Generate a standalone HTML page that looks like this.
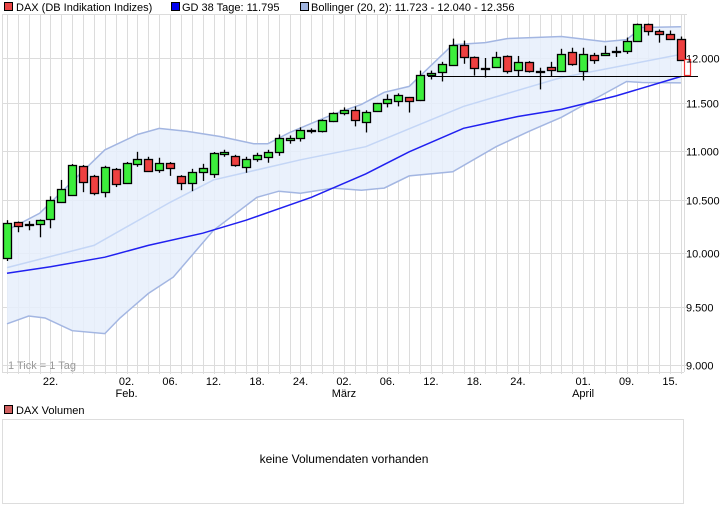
<!DOCTYPE html>
<html><head><meta charset="utf-8"><style>
html,body{margin:0;padding:0;background:#fff;width:726px;height:508px;overflow:hidden}
svg{display:block;font-family:"Liberation Sans",sans-serif}
</style></head><body>
<svg id="chart" width="726" height="508" viewBox="0 0 726 508" xmlns="http://www.w3.org/2000/svg">
<g font-size="11" fill="#000">
 <rect x="4.5" y="2.5" width="8" height="8" fill="#e84444" stroke="#000"/>
 <text x="16" y="11">DAX (DB Indikation Indizes)</text>
 <rect x="171.5" y="2.5" width="8" height="8" fill="#0000ee" stroke="#000"/>
 <text x="182" y="11">GD 38 Tage: 11.795</text>
 <rect x="300.5" y="2.5" width="8" height="8" fill="#9fb4e0" stroke="#000"/>
 <text x="311" y="11">Bollinger (20, 2): 11.723 - 12.040 - 12.356</text>
</g>
<g id="grid"></g>
<g id="band"></g>
<g id="lines"></g>
<g id="candles"></g>
<g id="axes" font-size="11"></g>
<text x="8" y="369" font-size="11" fill="#999">1 Tick = 1 Tag</text>
<g>
 <rect x="4.5" y="405.5" width="8" height="8" fill="#d06060" stroke="#000"/>
 <text x="16" y="414" font-size="11">DAX Volumen</text>
 <rect x="2.5" y="419.5" width="681" height="84" fill="#fff" stroke="#ddd"/>
 <text x="344" y="463" font-size="12" text-anchor="middle">keine Volumendaten vorhanden</text>
</g>
</svg>
<script>
const opens  =[9947,10288,10264,10269,10317,10481,10551,10847,10745,10582,10816,10674,10867,10918,10806,10878,10745,10674,10786,10765,10969,10949,10837,10918,10939,10990,11117,11128,11213,11202,11308,11394,11426,11298,11415,11500,11522,11565,11533,11815,11848,11924,12151,12012,11880,11902,12023,11870,11957,11859,11902,11859,12070,11859,12035,12035,12070,12081,12197,12383,12302,12278,12220];
const closes =[10279,10250,10274,10308,10500,10612,10857,10684,10572,10837,10663,10878,10918,10796,10878,10827,10674,10786,10827,10980,10990,10857,10918,10959,10990,11128,11128,11213,11202,11319,11394,11426,11319,11404,11500,11543,11587,11522,11815,11837,11935,12151,12012,11891,11891,12012,11859,11957,11859,11855,11870,12046,11935,12046,11978,12058,12081,12197,12383,12302,12278,12220,11978];
const highs  =[10308,10295,10298,10315,10541,10704,10865,10855,10755,10847,10825,10886,10990,10939,10929,10885,10752,10816,10867,10988,11011,10959,10939,10980,11011,11170,11160,11245,11234,11330,11404,11457,11468,11426,11505,11598,11609,11570,11859,11859,11957,12220,12197,12018,12000,12070,12030,12023,11965,11891,11957,12104,12116,12116,12058,12139,12128,12232,12394,12394,12325,12313,12244];
const lows   =[9921,10192,10211,10144,10230,10475,10545,10582,10551,10531,10633,10667,10837,10790,10776,10745,10602,10592,10694,10725,10939,10837,10776,10888,10878,10949,11074,11096,11181,11191,11300,11372,11255,11191,11410,11457,11468,11402,11525,11761,11739,11918,11935,11804,11783,11895,11826,11793,11837,11652,11793,11852,11913,11750,11935,12030,12012,12046,12190,12255,12174,12209,11967];
const gdIdx=[0,4,9,13,18,22,28,33,37,42,47,51,56,62];
const gdVals=[9807,9868,9956,10067,10183,10308,10531,10765,10990,11235,11360,11436,11580,11794];
const midIdx=[0,8,15,19,27,33,42,51,62];
const midVals=[9860,10067,10481,10704,10908,11043,11468,11783,12040];
const upIdx=[0,3,9,12,14,16.6,19.6,22.7,24,26,30,32.6,34.7,37,41,44,46,51,55,57,58.4,62];
const upVals=[10211,10375,11010,11170,11234,11202,11149,11074,11074,11191,11383,11489,11620,11685,12151,12174,12220,12244,12186,12209,12348,12356];
const loIdx=[0,2,3.5,6,9,10.4,13,15.3,19,23,25,27,30,32.6,34.7,37,41,45,48,51,54,57,58.4,62];
const loVals=[9354,9423,9405,9294,9268,9405,9623,9772,10211,10531,10592,10572,10623,10602,10623,10745,10786,11043,11202,11351,11543,11739,11728,11723];
const yTicks=[12500,12000,11500,11000,10500,10000,9500,9000];
const yTickLabels=["","12.000","11.500","11.000","10.500","10.000","9.500","9.000"];
const xTickIdx=[4,11,15,19,23,27,31,35,39,43,47,53,57,61];
const xTickLabels=["22.","02.","06.","12.","18.","24.","02.","06.","12.","18.","24.","01.","09.","15."];
const monthIdx=[11,31,53];
const monthLabels=["Feb.","März","April"];
const gdLevel=11795;
const currentHigh=11989, currentLow=11815;

const NS="http://www.w3.org/2000/svg";
const X0=7, DX=10.87, PL=2, PR=684, PT=15, PB=372;
function xs(i){return X0+i*DX;}
function ys(v){return 58-1067*Math.log(v/12000);}
function mk(tag,attrs,parent){const e=document.createElementNS(NS,tag);for(const k in attrs)e.setAttribute(k,attrs[k]);parent.appendChild(e);return e;}
const grid=document.getElementById('grid'),band=document.getElementById('band'),lines=document.getElementById('lines'),cg=document.getElementById('candles'),axes=document.getElementById('axes');
for(let i=0;i<opens.length;i++){
 const l=mk('line',{x1:Math.round(xs(i))+.5,x2:Math.round(xs(i))+.5,y1:PT,y2:PB+2,stroke:'#dcdcdc'},grid);
 
 
}
const edge=mk('line',{x1:PR+.5,x2:PR+.5,y1:PT,y2:PB,stroke:'#dcdcdc'},grid);


const edgeL=mk('line',{x1:PL+.5,x2:PL+.5,y1:PT,y2:PB,stroke:'#dcdcdc'},grid);


yTicks.forEach((v,k)=>{
 const y=Math.round(ys(v))+.5;
 const l=mk('line',{x1:PL,x2:PR+3,y1:y,y2:y,stroke:'#dcdcdc'},grid);
 
 
 if(yTickLabels[k]){
  const t=mk('text',{x:686,y:y+4},axes);t.textContent=yTickLabels[k];
  
  
 }
});
const bot=mk('line',{x1:PL,x2:PR,y1:PB+.5,y2:PB+.5,stroke:'#dcdcdc'},grid);


xTickIdx.forEach((ix,k)=>{
 const t=mk('text',{x:xs(ix),y:385,'text-anchor':'middle'},axes);t.textContent=xTickLabels[k];
 
 
});
monthIdx.forEach((ix,k)=>{
 const t=mk('text',{x:xs(ix),y:397,'text-anchor':'middle'},axes);t.textContent=monthLabels[k];
 
 
});
function pts(idx,vals){return idx.map((i,k)=>xs(i).toFixed(1)+','+ys(vals[k]).toFixed(1)).join(' ');}
const up=upIdx.map((i,k)=>xs(i).toFixed(1)+','+ys(upVals[k]).toFixed(1));
const lo=loIdx.map((i,k)=>xs(i).toFixed(1)+','+ys(loVals[k]).toFixed(1)).reverse();
const fill=mk('polygon',{points:up.concat(lo).join(' '),fill:'#e6eefb','fill-opacity':'0.85'},band);


const ul=mk('polyline',{points:pts(upIdx,upVals),fill:'none',stroke:'#a3b6e2','stroke-width':1.5},band);


const ll=mk('polyline',{points:pts(loIdx,loVals),fill:'none',stroke:'#a3b6e2','stroke-width':1.5},band);


const ml=mk('polyline',{points:pts(midIdx,midVals),fill:'none',stroke:'#c4d6f6','stroke-width':1.5},band);


const gl=mk('polyline',{points:pts(gdIdx,gdVals),fill:'none',stroke:'#2020f0','stroke-width':1.5},lines);


const hy=Math.round(ys(gdLevel))+.5;
const hl=mk('line',{x1:428,x2:698,y1:hy,y2:hy,stroke:'#000','stroke-width':1},lines);


for(let i=0;i<opens.length;i++){
 const x=Math.round(xs(i));
 const o=opens[i],c=closes[i];
 const g=mk('g',{},cg);
 
 
 mk('line',{x1:x+.5,x2:x+.5,y1:ys(highs[i]),y2:ys(lows[i]),stroke:'#000','stroke-width':1.3},g);
 let top=Math.round(ys(Math.max(o,c))),bt=Math.round(ys(Math.min(o,c)));
 if(bt-top<1)bt=top+1;
 mk('rect',{x:x-4+.5,y:top+.5,width:8,height:bt-top,fill:c>=o?'#3cee3c':'#ee4040',stroke:'#000','stroke-width':1.3},g);
}
const cy1=Math.round(ys(currentHigh))+.5,cy2=Math.round(ys(currentLow))+.5;
const cur=mk('rect',{x:684.5,y:cy1,width:6,height:cy2-cy1,fill:'#fff',stroke:'#ee3030','stroke-width':1.2},cg);


</script>
</body></html>
